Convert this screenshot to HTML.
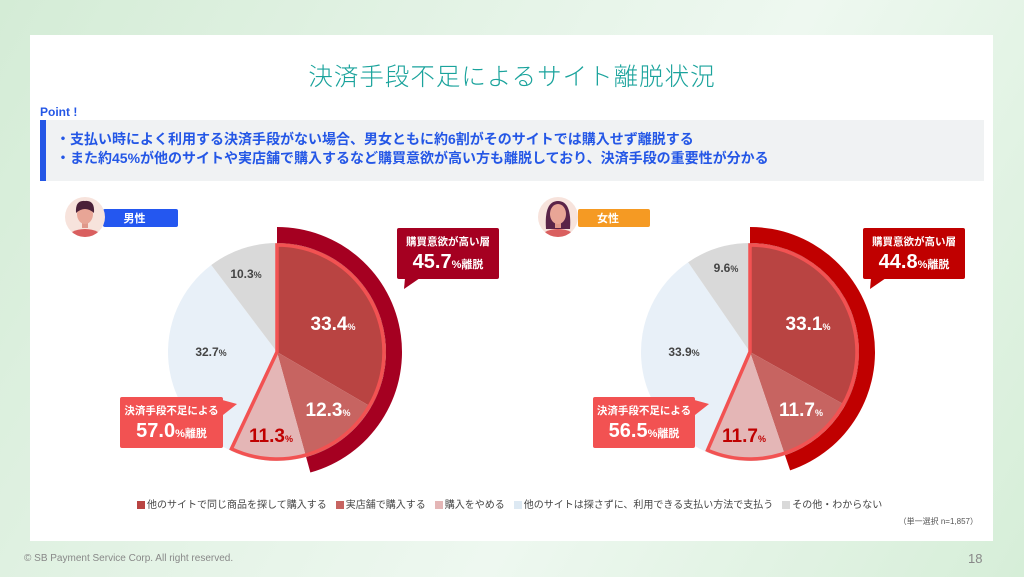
<!DOCTYPE html>
<html><head><meta charset="utf-8">
<style>
*{margin:0;padding:0;box-sizing:border-box}
body{width:1024px;height:577px;overflow:hidden;font-family:"Liberation Sans","Noto Sans CJK JP",sans-serif;background:linear-gradient(120deg,#d4ecd6 0%,#e6f4e8 40%,#eef8f0 60%,#d6eed8 100%);position:relative}
.panel{position:absolute;left:30px;top:35px;width:963px;height:506px;background:#fff}
.title{position:absolute;left:0;width:1024px;top:58px;text-align:center;font-size:24.5px;color:#1aa39c;font-weight:300;letter-spacing:1px}
.point{position:absolute;left:40px;top:105px;font-size:12px;font-weight:bold;color:#2457e6}
.box{position:absolute;left:40px;top:120px;width:944px;height:61px;background:#f0f2f3;border-left:6px solid #2457e6;padding:10px 0 0 10px;font-size:14px;font-weight:bold;color:#2457e6;line-height:19px}
.foot{position:absolute;left:24px;top:553px;font-size:10px;color:#888}
.pg{position:absolute;left:968px;top:551px;font-size:13px;color:#888}
.legend{position:absolute;left:137px;top:496px;font-size:10px;color:#444;white-space:nowrap}
.legend i{display:inline-block;width:8px;height:8px;margin-right:2px;vertical-align:-1px}
.legend span{margin-right:9px}
.note{position:absolute;right:46px;top:516px;font-size:8px;color:#555}
</style></head><body>
<div class="panel"></div>
<div class="title">決済手段不足によるサイト離脱状況</div>
<div class="point">Point !</div>
<div class="box">・支払い時によく利用する決済手段がない場合、男女ともに約6割がそのサイトでは購入せず離脱する<br>・また約45%が他のサイトや実店舗で購入するなど購買意欲が高い方も離脱しており、決済手段の重要性が分かる</div>
<svg id="s" width="1024" height="577" style="position:absolute;left:0;top:0" font-family="Liberation Sans, Noto Sans CJK JP, sans-serif"></svg>
<div class="legend"><span><i style="background:#b94442"></i>他のサイトで同じ商品を探して購入する</span><span><i style="background:#c76461"></i>実店舗で購入する</span><span><i style="background:#e4b6b6"></i>購入をやめる</span><span><i style="background:#dde9f3"></i>他のサイトは探さずに、利用できる支払い方法で支払う</span><span><i style="background:#d9d9d9"></i>その他・わからない</span></div>
<div class="note">（単一選択 n=1,857）</div>
<div class="foot">© SB Payment Service Corp. All right reserved.</div>
<div class="pg">18</div>
<script>
var s=document.getElementById('s'),h='';
function P(cx,cy,r,f){var a=f*2*Math.PI;return [cx+r*Math.sin(a),cy-r*Math.cos(a)];}
function sector(cx,cy,r,a,b,fill,extra){var p=P(cx,cy,r,a),q=P(cx,cy,r,b);return '<path d="M'+cx+','+cy+'L'+p[0]+','+p[1]+'A'+r+','+r+' 0 '+((b-a)>.5?1:0)+' 1 '+q[0]+','+q[1]+'Z" fill="'+fill+'" '+(extra||'')+'/>';}
function ring(cx,cy,r1,r2,a,b,fill){var p=P(cx,cy,r2,a),q=P(cx,cy,r2,b),u=P(cx,cy,r1,b),v=P(cx,cy,r1,a);return '<path d="M'+v[0]+','+v[1]+'L'+p[0]+','+p[1]+'A'+r2+','+r2+' 0 0 1 '+q[0]+','+q[1]+'L'+u[0]+','+u[1]+'A'+r1+','+r1+' 0 0 0 '+v[0]+','+v[1]+'Z" fill="'+fill+'"/>';}
function pie(cx,cy,v,ringc,labels){
 var cols=['#b94442','#c76461','#e4b6b6','#e8f0f8','#d9d9d9'],c=0,cum=[0];
 v.forEach(function(x){c+=x/100;cum.push(c);});cum[5]=1;
 var r=109;
 h+=ring(cx,cy,r,125,0,cum[2],ringc);
 for(var i=0;i<5;i++)h+=sector(cx,cy,r,cum[i],cum[i+1],cols[i]);
 h+=sector(cx,cy,r-2,0,cum[3],'none','stroke="#f25252" stroke-width="3.5" stroke-linejoin="miter"');
 labels.forEach(function(l){h+='<text x="'+l[0]+'" y="'+l[1]+'" font-size="'+l[3]+'" font-weight="bold" fill="'+l[4]+'" text-anchor="middle">'+l[2]+'<tspan font-size="9">%</tspan></text>';});
}
function callout(x,y,w,hh,col,t1,t2,tail){
 h+='<rect x="'+x+'" y="'+y+'" width="'+w+'" height="'+hh+'" rx="2" fill="'+col+'"/>';
 h+='<path d="'+tail+'" fill="'+col+'"/>';
 h+='<text x="'+(x+w/2)+'" y="'+(y+17)+'" font-size="10.5" font-weight="bold" fill="#fff" text-anchor="middle">'+t1+'</text>';
 h+='<text x="'+(x+w/2)+'" y="'+(y+40)+'" font-size="20" font-weight="bold" fill="#fff" text-anchor="middle">'+t2+'<tspan font-size="11">%離脱</tspan></text>';
}
function avatar(cx,cy,bx,bw,col,lab,fem){
 h+='<rect x="'+bx+'" y="209" width="'+bw+'" height="18" rx="2" fill="'+col+'"/>';
 h+='<text x="'+(bx+bw/2-6)+'" y="222" font-size="11" font-weight="bold" fill="#fff" text-anchor="middle">'+lab+'</text>';
 h+='<circle cx="'+cx+'" cy="'+cy+'" r="20" fill="#f7e3dc"/>';
 h+='<clipPath id="c'+cx+'"><circle cx="'+cx+'" cy="'+cy+'" r="20"/></clipPath><g clip-path="url(#c'+cx+')">';
 if(fem)h+='<path d="M'+(cx-12)+','+(cy+12)+'Q'+(cx-14)+','+(cy-16)+' '+cx+','+(cy-16)+'Q'+(cx+14)+','+(cy-16)+' '+(cx+12)+','+(cy+12)+'Z" fill="#5a2448"/>';
 h+='<ellipse cx="'+cx+'" cy="'+(cy+22)+'" rx="18" ry="10" fill="#d95f5f"/>';
 h+='<rect x="'+(cx-3)+'" y="'+(cy+3)+'" width="6" height="8" fill="#e0988a"/>';
 h+='<ellipse cx="'+cx+'" cy="'+(cy-3)+'" rx="8" ry="10" fill="#e8a596"/>';
 if(!fem)h+='<path d="M'+(cx-9)+','+(cy-4)+'Q'+(cx-10)+','+(cy-17)+' '+cx+','+(cy-16)+'Q'+(cx+10)+','+(cy-17)+' '+(cx+9)+','+(cy-4)+'Q'+cx+','+(cy-12)+' '+(cx-9)+','+(cy-4)+'Z" fill="#4a2038"/>';
 h+='</g>';
}
avatar(85,217,103,75,'#2457f0','男性',false);
avatar(558,217,578,72,'#f59a23','女性',true);
pie(277,352,[33.4,12.3,11.3,32.7],'#a50021',[[333,330,'33.4',19,'#fff'],[328,416,'12.3',19,'#fff'],[271,442,'11.3',19,'#c00000'],[211,356,'32.7',12,'#444'],[246,278,'10.3',12,'#444']]);
pie(750,352,[33.1,11.7,11.7,33.9],'#c00000',[[808,330,'33.1',19,'#fff'],[801,416,'11.7',19,'#fff'],[744,442,'11.7',19,'#c00000'],[684,356,'33.9',12,'#444'],[726,272,'9.6',12,'#444']]);
callout(397,228,102,51,'#a50021','購買意欲が高い層','45.7','M405,278L404,289L420,278Z');
callout(120,397,103,51,'#f25252','決済手段不足による','57.0','M215,398L237,404L223,415Z');
callout(863,228,102,51,'#c00000','購買意欲が高い層','44.8','M871,278L870,289L886,278Z');
callout(593,397,102,51,'#f25252','決済手段不足による','56.5','M687,398L709,404L695,415Z');
s.innerHTML=h;
</script>
</body></html>
